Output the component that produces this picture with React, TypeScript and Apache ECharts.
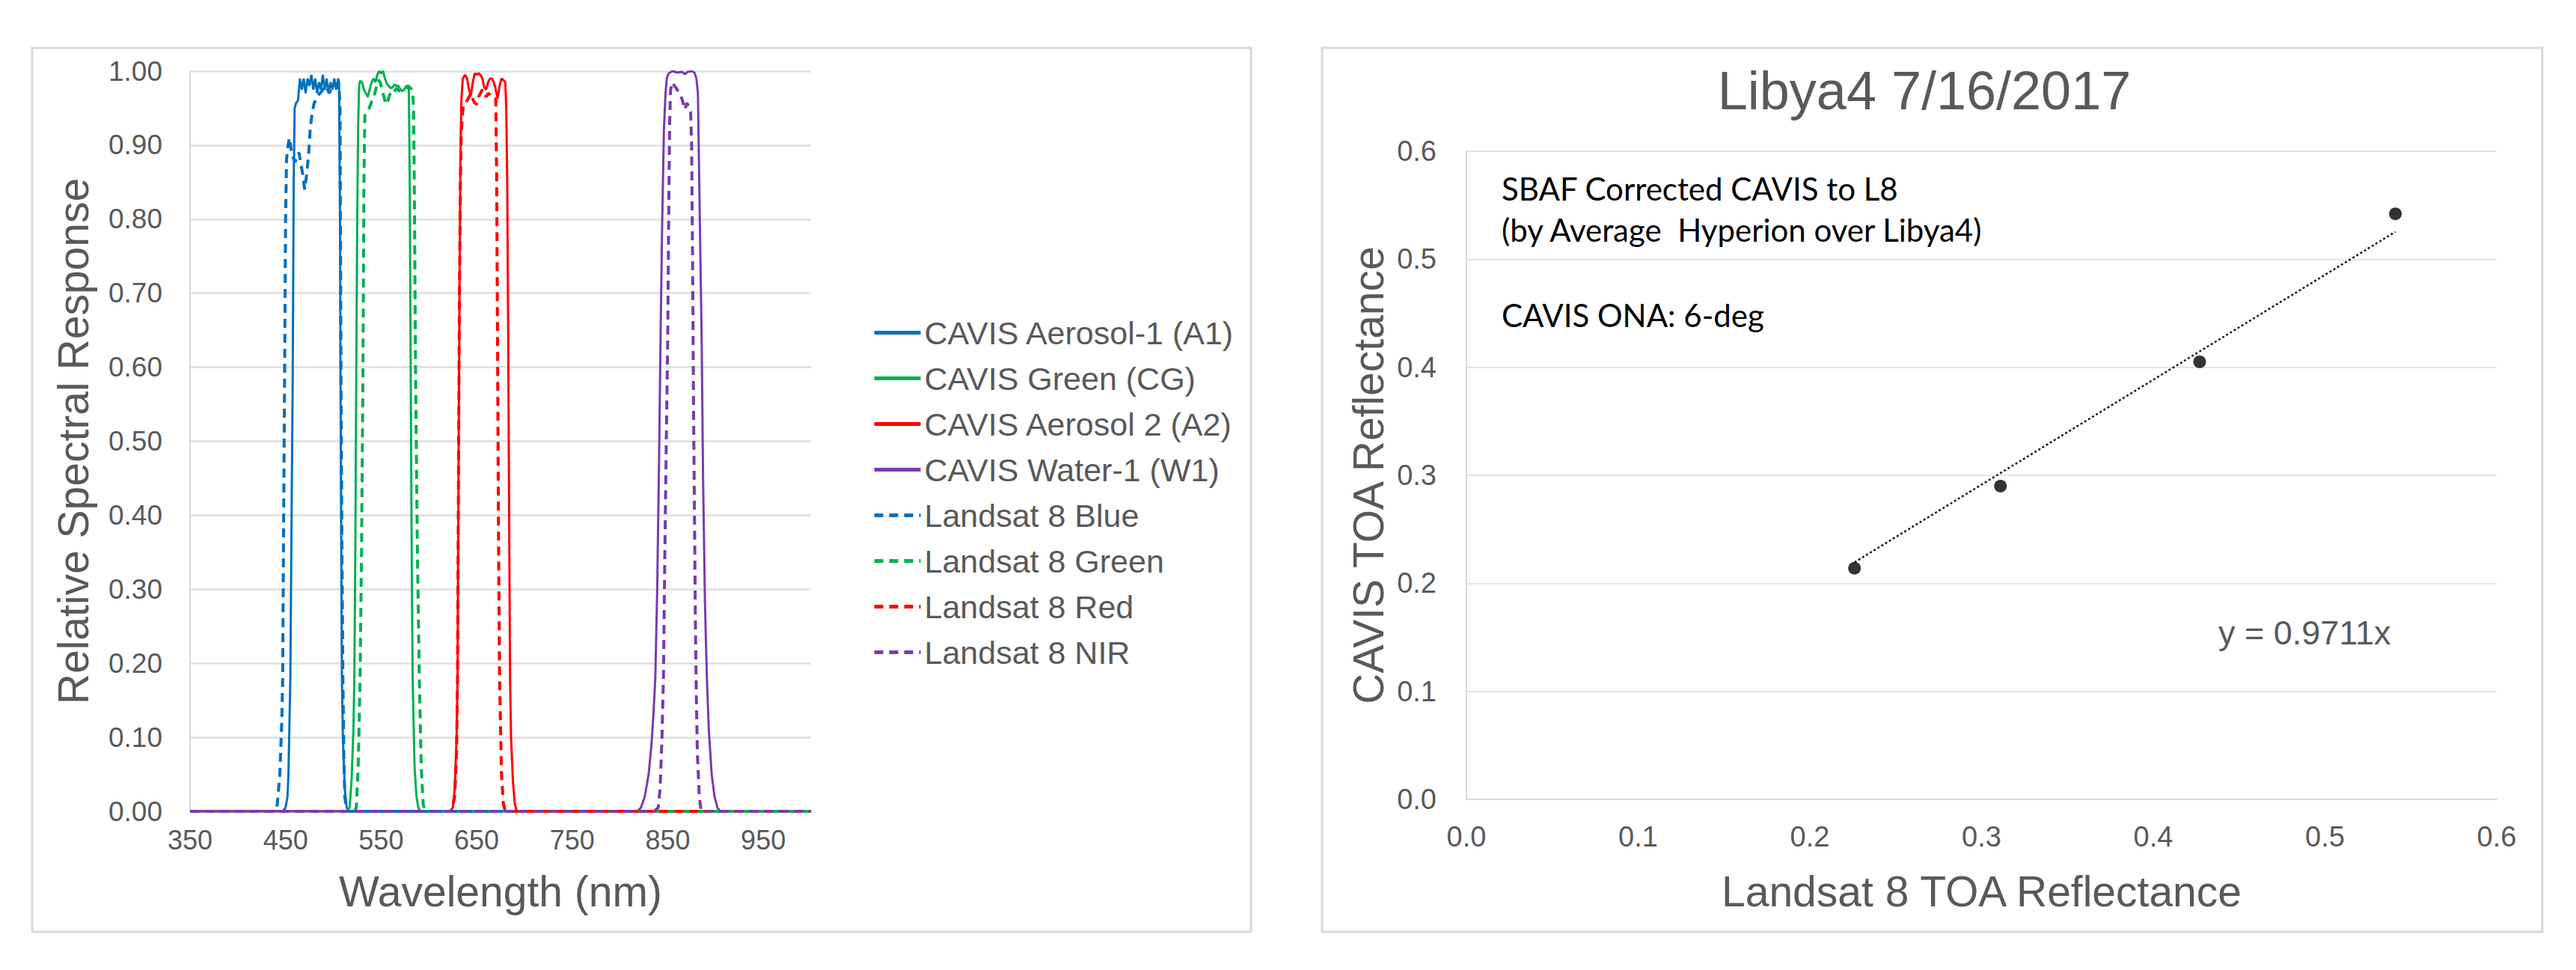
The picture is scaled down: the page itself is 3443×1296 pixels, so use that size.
import React, { useEffect, useRef } from "react";
import * as echarts from "echarts";

const FONT = "'Liberation Sans', Arial, sans-serif";
const NOTE_FONT = "Lato, 'Open Sans', sans-serif";
const GRAY = "#595959";
const GRID_GRAY = "#d9d9d9";

// ---------- Left chart: relative spectral response ----------
const seriesNames = [
  "CAVIS Aerosol-1 (A1)",
  "CAVIS Green (CG)",
  "CAVIS Aerosol 2 (A2)",
  "CAVIS Water-1 (W1)",
  "Landsat 8 Blue",
  "Landsat 8 Green",
  "Landsat 8 Red",
  "Landsat 8 NIR",
];
const seriesColors = ["#0070C0", "#00B050", "#FF0000", "#7B3AB0", "#0070C0", "#00B050", "#FF0000", "#7B3AB0"];
const seriesDashed = [false, false, false, false, true, true, true, true];

const cavisA1: [number, number][] = [
  [350, 0], [447, 0], [450, 0.005], [452, 0.02], [453, 0.05], [455, 0.18], [456, 0.35], [457.5, 0.59], [458.5, 0.85],
  [459.5, 0.95], [461, 0.957], [463, 0.96], [465, 0.99], [467, 0.975], [469, 0.99], [471, 0.97], [473, 0.99], [475, 0.98],
  [477, 0.995], [479, 0.975], [481, 0.99], [483, 0.97], [485, 0.985], [487, 0.975], [489, 0.995], [491, 0.975], [493, 0.99],
  [495, 0.97], [497, 0.985], [499, 0.975], [501, 0.99], [503, 0.975], [505, 0.99], [506, 0.985], [507, 0.8], [507.5, 0.59],
  [508.5, 0.3], [509, 0.18], [510, 0.1], [512, 0.03], [514, 0.005], [516, 0], [1000, 0],
];
const cavisCG: [number, number][] = [
  [350, 0], [514, 0], [517, 0.005], [519, 0.04], [521, 0.11], [522, 0.18], [523, 0.35], [524, 0.59], [525, 0.8], [526, 0.93],
  [527, 0.98], [528, 0.987], [530, 0.985], [532, 0.975], [534, 0.97], [536, 0.965], [538, 0.975], [540, 0.985], [542, 0.99],
  [544, 0.985], [546, 0.995], [548, 1.0], [550, 0.997], [552, 1.0], [554, 0.99], [556, 0.983], [558, 0.98], [560, 0.977],
  [562, 0.978], [564, 0.982], [566, 0.98], [568, 0.98], [570, 0.976], [572, 0.973], [574, 0.975], [576, 0.978], [578, 0.977],
  [579, 0.975], [580, 0.85], [581, 0.59], [582, 0.35], [583, 0.18], [585, 0.06], [587, 0.02], [589, 0.005], [591, 0], [1000, 0],
];
const cavisA2: [number, number][] = [
  [350, 0], [622, 0], [625, 0.005], [627, 0.03], [629, 0.1], [630, 0.18], [631, 0.45], [632, 0.7], [633, 0.88], [634, 0.96],
  [635.5, 0.99], [638, 0.995], [640, 0.99], [642, 0.975], [644, 0.967], [646, 0.985], [648, 0.997], [650, 0.995], [652, 0.997],
  [654, 0.995], [656, 0.99], [658, 0.978], [660, 0.975], [662, 0.985], [664, 0.99], [666, 0.99], [668, 0.985], [670, 0.975],
  [672, 0.963], [674, 0.98], [676, 0.99], [678, 0.988], [680, 0.985], [681, 0.95], [682, 0.85], [683, 0.65], [684, 0.4],
  [685, 0.18], [686, 0.1], [688, 0.04], [690, 0.01], [692, 0], [1000, 0],
];
const cavisW1: [number, number][] = [
  [350, 0], [818, 0], [822, 0.005], [826, 0.02], [830, 0.05], [833, 0.09], [835, 0.13], [837, 0.18], [839, 0.3], [841, 0.48],
  [842.5, 0.64], [844, 0.78], [846, 0.92], [847.7, 0.97], [849, 0.99], [851, 0.997], [855, 1.0], [860, 0.998], [865, 0.999],
  [868, 0.996], [871, 0.999], [875, 1.0], [878, 0.998], [880, 0.99], [881.6, 0.97], [883, 0.85], [885.5, 0.64], [887, 0.45],
  [889, 0.28], [891, 0.18], [893, 0.11], [896, 0.05], [899, 0.02], [902, 0.005], [905, 0], [1000, 0],
];
const l8Blue: [number, number][] = [
  [350, 0], [438, 0], [441, 0.005], [444, 0.05], [446, 0.12], [447, 0.18], [448, 0.4], [449, 0.59], [450, 0.8], [451, 0.88],
  [452, 0.895], [454, 0.91], [456, 0.893], [458, 0.883], [460, 0.877], [462, 0.885], [464, 0.89], [466, 0.875], [468, 0.86],
  [470, 0.84], [472, 0.86], [474, 0.885], [476, 0.925], [478, 0.945], [480, 0.957], [482, 0.962], [484, 0.967], [486, 0.97],
  [488, 0.973], [490, 0.977], [492, 0.98], [494, 0.975], [496, 0.97], [498, 0.978], [500, 0.983], [502, 0.98], [504, 0.977],
  [506, 0.98], [507, 0.95], [508, 0.59], [509, 0.35], [510, 0.18], [511, 0.07], [512, 0.02], [514, 0], [1000, 0],
];
const l8Green: [number, number][] = [
  [350, 0], [522, 0], [524, 0.005], [526, 0.06], [528, 0.18], [529.5, 0.35], [531, 0.59], [532, 0.85], [533, 0.94], [535, 0.943],
  [537, 0.948], [539, 0.955], [541, 0.962], [543, 0.968], [545, 0.978], [547, 0.988], [549, 0.985], [551, 0.975], [553, 0.965],
  [555, 0.955], [557, 0.96], [559, 0.968], [561, 0.972], [563, 0.97], [566, 0.977], [569, 0.973], [572, 0.975], [575, 0.978],
  [578, 0.98], [581, 0.977], [583, 0.972], [584, 0.95], [585, 0.8], [586, 0.6], [588, 0.35], [590, 0.18], [592, 0.06],
  [594, 0.01], [596, 0], [1000, 0],
];
const l8Red: [number, number][] = [
  [350, 0], [624, 0], [627, 0.02], [629, 0.08], [630, 0.18], [631, 0.45], [632, 0.7], [633, 0.85], [634, 0.92], [636, 0.955],
  [638, 0.957], [640, 0.96], [642, 0.965], [644, 0.97], [646, 0.962], [648, 0.957], [650, 0.955], [652, 0.965], [654, 0.97],
  [656, 0.975], [658, 0.97], [660, 0.965], [662, 0.97], [664, 0.968], [666, 0.965], [668, 0.963], [670, 0.963], [671, 0.85],
  [672, 0.6], [673, 0.35], [674, 0.18], [676, 0.05], [678, 0.01], [680, 0], [1000, 0],
];
const l8Nir: [number, number][] = [
  [350, 0], [836, 0], [840, 0.005], [842, 0.03], [844, 0.1], [845.5, 0.18], [847, 0.35], [848.5, 0.5], [850, 0.64], [851, 0.8],
  [852, 0.93], [853, 0.975], [855, 0.985], [857, 0.98], [859, 0.977], [861, 0.972], [863, 0.968], [865, 0.962], [867, 0.953],
  [868, 0.948], [870, 0.957], [872, 0.952], [874, 0.945], [875, 0.9], [876, 0.75], [877, 0.55], [878, 0.4], [879, 0.25],
  [880, 0.15], [881, 0.08], [883, 0.02], [885, 0], [1000, 0],
];
const spectra = [cavisA1, cavisCG, cavisA2, cavisW1, l8Blue, l8Green, l8Red, l8Nir];
const wavelengthTicks = [350, 450, 550, 650, 750, 850, 950];

// ---------- Right chart: Libya4 TOA reflectance ----------
const landsatToa = [0.226, 0.311, 0.427, 0.541];
const cavisToa = [0.214, 0.29, 0.405, 0.542];
const trendSlope = 0.9711;
const noteLines = ["SBAF Corrected CAVIS to L8", "(by Average  Hyperion over Libya4)", "CAVIS ONA: 6-deg"];

export default function App() {
  const ref = useRef<HTMLDivElement>(null);

  useEffect(() => {
    if (!ref.current) return;
    const chart = echarts.init(ref.current, null, { renderer: "svg", width: 3443, height: 1296 });

    const spectralSeries = spectra.map((data, i) => ({
      name: seriesNames[i],
      type: "line",
      xAxisIndex: 0,
      yAxisIndex: 0,
      data,
      symbol: "none",
      showSymbol: false,
      smooth: false,
      lineStyle: {
        color: seriesColors[i],
        width: seriesDashed[i] ? 4 : 3,
        type: seriesDashed[i] ? [12, 8] : "solid",
      },
      itemStyle: { color: seriesColors[i] },
      emphasis: { disabled: true },
    }));

    const minX = Math.min(...landsatToa);
    const maxX = Math.max(...landsatToa);

    const option = {
      animation: false,
      backgroundColor: "#ffffff",
      textStyle: { fontFamily: FONT },
      grid: [
        { left: 254, top: 95, width: 830, height: 989 },
        { left: 1960, top: 202, width: 1377, height: 866 },
      ],
      xAxis: [
        {
          gridIndex: 0,
          type: "value",
          min: 350,
          max: 1000,
          name: "Wavelength (nm)",
          nameLocation: "middle",
          nameGap: 78,
          nameTextStyle: { fontSize: 57, color: GRAY, fontFamily: FONT },
          axisLine: { show: true, lineStyle: { color: GRID_GRAY, width: 2 } },
          axisTick: { show: false },
          splitLine: { show: false },
          axisLabel: { customValues: wavelengthTicks, fontSize: 36, color: GRAY, margin: 20, fontFamily: FONT },
        },
        {
          gridIndex: 1,
          type: "value",
          min: 0,
          max: 0.6,
          interval: 0.1,
          name: "Landsat 8 TOA Reflectance",
          nameLocation: "middle",
          nameGap: 94,
          nameTextStyle: { fontSize: 57, color: GRAY, fontFamily: FONT },
          axisLine: { show: true, lineStyle: { color: GRID_GRAY, width: 2 } },
          axisTick: { show: false },
          splitLine: { show: false },
          axisLabel: { fontSize: 38, color: GRAY, margin: 31, fontFamily: FONT, formatter: (v: number) => v.toFixed(1) },
        },
      ],
      yAxis: [
        {
          gridIndex: 0,
          type: "value",
          min: 0,
          max: 1,
          interval: 0.1,
          name: "Relative Spectral Response",
          nameLocation: "middle",
          nameRotate: 90,
          nameGap: 128,
          nameTextStyle: { fontSize: 57, color: GRAY, fontFamily: FONT },
          axisLine: { show: true, lineStyle: { color: GRID_GRAY, width: 2 } },
          axisTick: { show: false },
          splitLine: { show: true, lineStyle: { color: "#e3e3e3", width: 3 } },
          axisLabel: { fontSize: 37, color: GRAY, margin: 37, fontFamily: FONT, formatter: (v: number) => v.toFixed(2) },
        },
        {
          gridIndex: 1,
          type: "value",
          min: 0,
          max: 0.6,
          interval: 0.1,
          name: "CAVIS TOA Reflectance",
          nameLocation: "middle",
          nameRotate: 90,
          nameGap: 103,
          nameTextStyle: { fontSize: 57, color: GRAY, fontFamily: FONT },
          axisLine: { show: true, lineStyle: { color: GRID_GRAY, width: 2 } },
          axisTick: { show: false },
          splitLine: { show: true, lineStyle: { color: "#e3e3e3", width: 2 } },
          axisLabel: { fontSize: 38, color: GRAY, margin: 40, fontFamily: FONT, formatter: (v: number) => v.toFixed(1) },
        },
      ],
      legend: {
        data: seriesNames,
        orient: "vertical",
        left: 1161,
        top: 418,
        itemWidth: 62,
        itemHeight: 20,
        itemGap: 18,
        selectedMode: false,
        textStyle: { fontSize: 43, color: GRAY, fontFamily: FONT },
        lineStyle: { width: 5 },
        itemStyle: { opacity: 0 },
      },
      series: [
        ...spectralSeries,
        {
          name: "trend",
          type: "line",
          xAxisIndex: 1,
          yAxisIndex: 1,
          data: [
            [minX, trendSlope * minX],
            [maxX, trendSlope * maxX],
          ],
          symbol: "none",
          lineStyle: { color: "#1a1a1a", width: 2.5, type: [3, 3] },
          emphasis: { disabled: true },
        },
        {
          name: "points",
          type: "scatter",
          xAxisIndex: 1,
          yAxisIndex: 1,
          data: landsatToa.map((x, i) => [x, cavisToa[i]]),
          symbol: "circle",
          symbolSize: 17,
          itemStyle: { color: "#000000" },
          emphasis: { disabled: true },
          z: 5,
        },
      ],
      graphic: [
        {
          type: "rect",
          shape: { x: 43, y: 64, width: 1629, height: 1181 },
          style: { fill: "none", stroke: "#d9d9d9", lineWidth: 3 },
          silent: true,
        },
        {
          type: "rect",
          shape: { x: 1767, y: 64, width: 1631, height: 1181 },
          style: { fill: "none", stroke: "#d9d9d9", lineWidth: 3 },
          silent: true,
        },
        {
          type: "text",
          x: 2572,
          y: 121,
          style: {
            text: "Libya4 7/16/2017",
            fontSize: 72,
            fontFamily: FONT,
            fill: GRAY,
            align: "center",
            verticalAlign: "middle",
          },
        },
        ...noteLines.map((t, i) => ({
          type: "text",
          x: 2007,
          y: [252, 307, 421][i],
          style: {
            text: t,
            fontSize: 42,
            fontFamily: NOTE_FONT,
            fill: "#000000",
            align: "left",
            verticalAlign: "middle",
          },
        })),
        {
          type: "text",
          x: 2965,
          y: 845,
          style: {
            text: "y = 0.9711x",
            fontSize: 45,
            fontFamily: FONT,
            fill: GRAY,
            align: "left",
            verticalAlign: "middle",
          },
        },
      ],
    };

    chart.setOption(option as any);
    return () => chart.dispose();
  }, []);

  return (
    <div
      ref={ref}
      style={{ position: "fixed", left: 0, top: 0, width: 3443, height: 1296, background: "#ffffff" }}
    />
  );
}
